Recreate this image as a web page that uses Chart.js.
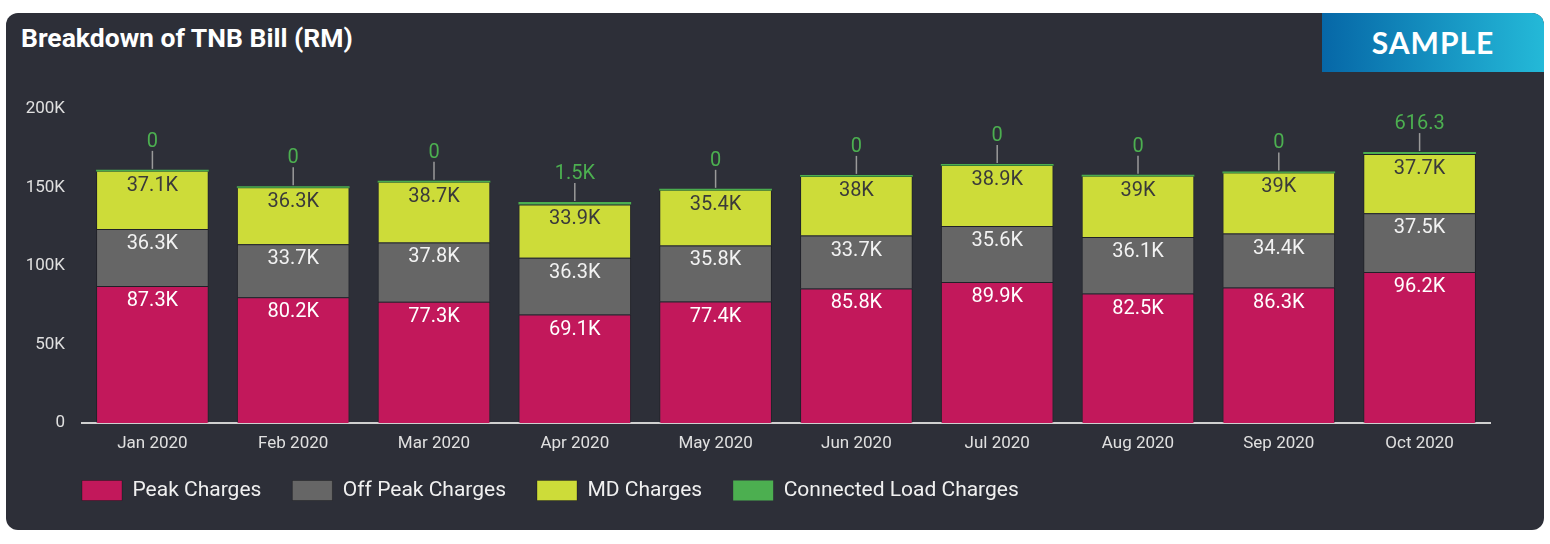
<!DOCTYPE html>
<html>
<head>
<meta charset="utf-8">
<title>Breakdown of TNB Bill (RM)</title>
<script src="https://cdn.jsdelivr.net/npm/chart.js@4.4.0/dist/chart.umd.min.js"></script>
<style>
    body { margin: 0; background: #fff; width: 1550px; height: 544px; overflow: hidden; font-family: Roboto, sans-serif; }
    .card { position: absolute; left: 6px; top: 13px; width: 1538px; height: 517px; background: #2d2f38; border-radius: 12px; overflow: hidden; }
    .title { position: absolute; left: 15px; top: 9px; color: #fff; font: bold 26.5px Roboto, sans-serif; }
    .badge { position: absolute; right: 0; top: 0; width: 222px; height: 59px; background: linear-gradient(90deg, #0667a7, #24b9d8); color: #fff; font: bold 30px Lato, sans-serif; letter-spacing: 1px; text-align: center; line-height: 59px; }
    .chart-box { position: absolute; left: 0; top: 69px; width: 1538px; height: 448px; }
</style>
</head>
<body>
<div class="card">
    <div class="title">Breakdown of TNB Bill (RM)</div>
    <div class="badge">SAMPLE</div>
    <div class="chart-box"><canvas id="billChart"></canvas></div>
</div>
<script>
// data
const months = ['Jan 2020', 'Feb 2020', 'Mar 2020', 'Apr 2020', 'May 2020', 'Jun 2020', 'Jul 2020', 'Aug 2020', 'Sep 2020', 'Oct 2020'];
const peakCharges = [87300, 80200, 77300, 69100, 77400, 85800, 89900, 82500, 86300, 96200];
const offPeakCharges = [36300, 33700, 37800, 36300, 35800, 33700, 35600, 36100, 34400, 37500];
const mdCharges = [37100, 36300, 38700, 33900, 35400, 38000, 38900, 39000, 39000, 37700];
const connectedLoadCharges = [0, 0, 0, 1500, 0, 0, 0, 0, 0, 616.3];
const yTicks = [0, 50000, 100000, 150000, 200000];

function fmt(v) {
    if (v >= 1000) return parseFloat((v / 1000).toFixed(1)) + 'K';
    return String(v);
}

// -- labels on top of each segment, connected load gets a leader line -- //
const barLabels = {
    id: 'barLabels',
    afterDatasetsDraw(chart) {
        const ctx = chart.ctx;
        ctx.save();
        ctx.font = '20px Roboto';
        ctx.textAlign = 'center';
        ctx.textBaseline = 'middle';
        chart.data.datasets.forEach((ds, i) => {
            const meta = chart.getDatasetMeta(i);
            meta.data.forEach((bar, j) => {
                const v = ds.data[j];
                const top = Math.min(bar.y, bar.base);
                ctx.fillStyle = ds.labelColor;
                if (ds.outside) {
                    ctx.strokeStyle = '#9a9a9a';
                    ctx.lineWidth = 1.5;
                    ctx.beginPath();
                    ctx.moveTo(bar.x, top - 1);
                    ctx.lineTo(bar.x, top - 19);
                    ctx.stroke();
                    ctx.fillText(fmt(v), bar.x, top - 28);
                } else {
                    ctx.fillText(fmt(v), bar.x, top + 15);
                }
            });
        });
        ctx.restore();
    }
};

// legend starts under the plot's left edge and sits a bit closer to the axis
const legendShift = {
    id: 'legendShift',
    afterLayout(chart) {
        const lg = chart.legend;
        lg.left = chart.chartArea.left - lg.options.labels.padding;
        lg.top -= 12;
        lg.bottom -= 12;
    }
};

new Chart(document.getElementById('billChart'), {
    type: 'bar',
    data: {
        labels: months,
        datasets: [
            { label: 'Peak Charges', data: peakCharges, backgroundColor: '#c2185b', labelColor: '#ffffff' },
            { label: 'Off Peak Charges', data: offPeakCharges, backgroundColor: '#666666', labelColor: '#f2f2f2' },
            { label: 'MD Charges', data: mdCharges, backgroundColor: '#cddc39', labelColor: '#3a3a3a' },
            { label: 'Connected Load Charges', data: connectedLoadCharges, backgroundColor: '#4caf50', labelColor: '#4caf50', outside: true, minBarLength: 2, borderWidth: 0 }
        ]
    },
    options: {
        responsive: true,
        maintainAspectRatio: false,
        animation: false,
        categoryPercentage: 0.8,
        barPercentage: 1,
        borderWidth: 1,
        borderColor: 'rgba(0, 0, 0, 0.28)',
        layout: { padding: { left: 0, right: 54, top: 3, bottom: 7 } },
        plugins: {
            tooltip: { enabled: false },
            legend: {
                position: 'bottom',
                align: 'start',
                labels: {
                    boxWidth: 40,
                    boxHeight: 20,
                    padding: 31,
                    color: '#f0f0f0',
                    font: { family: 'Roboto', size: 21 }
                }
            }
        },
        scales: {
            x: {
                stacked: true,
                grid: { display: false, drawTicks: false },
                border: { display: true, color: '#d0d0d0', width: 2 },
                ticks: { color: '#e0e0e0', padding: 11, font: { family: 'Roboto', size: 17 } },
                afterFit: s => { s.height = 38; }
            },
            y: {
                stacked: true,
                min: 0,
                max: 200000,
                grid: { display: false, drawTicks: false },
                border: { display: false },
                afterBuildTicks: s => { s.ticks = yTicks.map(v => ({ value: v })); },
                ticks: {
                    color: '#e0e0e0',
                    padding: 17,
                    font: { family: 'Roboto', size: 17 },
                    callback: v => v === 0 ? '0' : (v / 1000) + 'K'
                },
                afterFit: s => { s.width = 76; }
            }
        }
    },
    plugins: [barLabels, legendShift]
});
</script>
</body>
</html>
